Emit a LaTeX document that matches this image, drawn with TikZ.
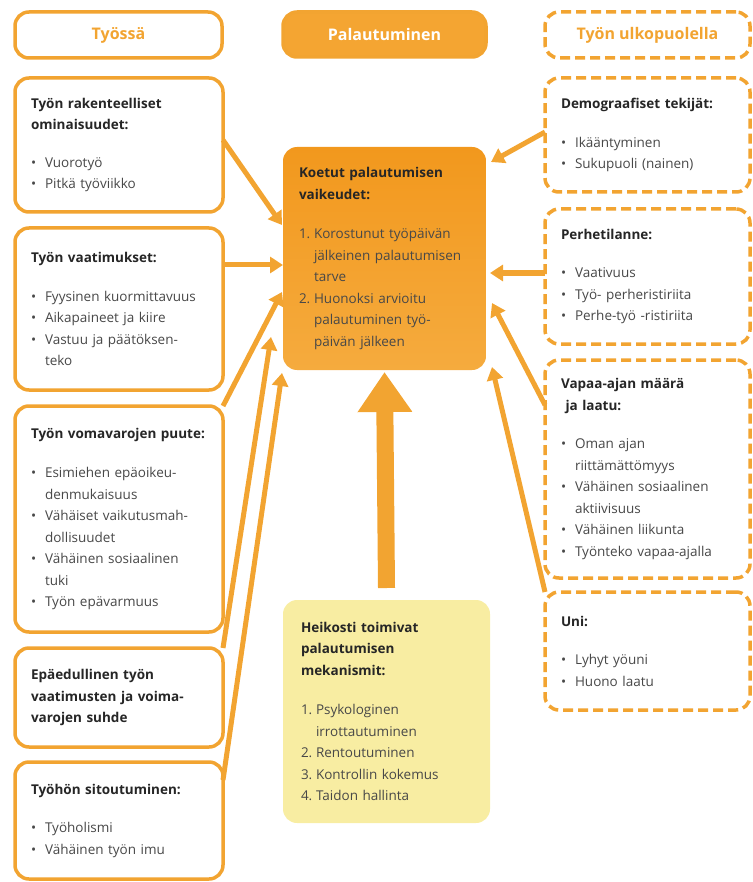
\documentclass[tikz,border=0pt]{standalone}
\usepackage{fontspec}
\setmainfont{Open Sans}
\usetikzlibrary{positioning,arrows.meta,calc}

\definecolor{palaorange}{HTML}{F2A431}
\definecolor{headfill}{HTML}{F4A532}
\definecolor{centop}{HTML}{F2981D}
\definecolor{cenbottom}{HTML}{F5AB3E}
\definecolor{mechyellow}{HTML}{F8EDA2}
\definecolor{headgray}{HTML}{262626}
\definecolor{bodygray}{HTML}{484848}

\newcommand{\hd}[1]{\textbf{\color{headgray}#1}}
\newcommand{\itm}{\makebox[14pt][l]{\textbullet}}
\newcommand{\cnt}{\hspace*{14pt}}
\newcommand{\nr}[1]{\makebox[15pt][l]{#1}}

\begin{document}
\begin{tikzpicture}[
    x=1pt, y=1pt,
    font=\fontsize{13.5}{21.5}\selectfont,
    sidebox/.style={
        draw=palaorange,
        fill=white,
        line width=3.5pt,
        rounded corners=14pt,
        outer sep=0pt,
        anchor=north west,
        align=left,
        text=bodygray,
        inner xsep=16pt,
        inner ysep=6pt
    },
    workbox/.style={
        sidebox,
        text width=176pt,
        minimum width=208pt
    },
    freebox/.style={
        sidebox,
        dash pattern=on 10pt off 5pt,
        text width=173pt,
        minimum width=205pt
    },
    headbox/.style={
        draw=palaorange,
        line width=3.5pt,
        rounded corners=14pt,
        outer sep=0pt,
        anchor=north west,
        minimum height=46pt,
        text=palaorange,
        font=\fontsize{16}{19}\selectfont\bfseries
    },
    link/.style={
        draw=palaorange,
        line width=5pt,
        -{Triangle[width=16pt,length=13pt]}
    },
    bigarrow/.style={
        draw=palaorange,
        line width=17pt,
        -{Triangle[width=52pt,length=40pt]}
    }
]
\useasboundingbox (0,0) rectangle (752,-882);

% Column headers
\node[headbox, minimum width=207pt] (tyossa) at (15,-12) {Työssä};
\node[headbox, fill=headfill, text=white, minimum width=203pt, minimum height=45pt] (pala) at (283,-12) {Palautuminen};
\node[headbox, dash pattern=on 10pt off 5pt, minimum width=205pt] (ulko) at (545,-12) {Työn ulkopuolella};

% Left column: at work
\node[workbox, below=20pt of tyossa.south west, anchor=north west, minimum height=134pt] (rakenne) {
    \hd{Työn rakenteelliset}\\ \hd{ominaisuudet:}\\[16pt]
    \itm Vuorotyö\\
    \itm Pitkä työviikko
};
\node[workbox, below=16pt of rakenne.south west, anchor=north west, minimum height=162pt] (vaatimus) {
    \hd{Työn vaatimukset:}\\[17pt]
    \itm Fyysinen kuormittavuus\\
    \itm Aikapaineet ja kiire\\
    \itm Vastuu ja päätöksen-\\
    \cnt teko
};
\node[workbox, below=16pt of vaatimus.south west, anchor=north west, minimum height=226pt] (voimavara) {
    \hd{Työn vomavarojen puute:}\\[18pt]
    \itm Esimiehen epäoikeu-\\
    \cnt denmukaisuus\\
    \itm Vähäiset vaikutusmah-\\
    \cnt dollisuudet\\
    \itm Vähäinen sosiaalinen\\
    \cnt tuki\\
    \itm Työn epävarmuus
};
\node[workbox, below=16pt of voimavara.south west, anchor=north west, minimum height=99pt] (suhde) {
    \hd{Epäedullinen työn}\\
    \hd{vaatimusten ja voima-}\\
    \hd{varojen suhde}
};
\node[workbox, below=15pt of suhde.south west, anchor=north west, minimum height=117pt] (sitoutus) {
    \hd{Työhön sitoutuminen:}\\[17pt]
    \itm Työholismi\\
    \itm Vähäinen työn imu
};

% Right column: outside work
\node[freebox, below=20pt of ulko.south west, anchor=north west, minimum height=114pt] (demo) {
    \hd{Demograafiset tekijät:}\\[17pt]
    \itm Ikääntyminen\\
    \itm Sukupuoli (nainen)
};
\node[freebox, below=17pt of demo.south west, anchor=north west, minimum height=135pt] (perhe) {
    \hd{Perhetilanne:}\\[17pt]
    \itm Vaativuus\\
    \itm Työ- perheristiriita\\
    \itm Perhe-työ -ristiriita
};
\node[freebox, below=16pt of perhe.south west, anchor=north west, minimum height=218pt] (vapaa) {
    \hd{Vapaa-ajan määrä}\\ \hd{\ ja laatu:}\\[17pt]
    \itm Oman ajan\\
    \cnt riittämättömyys\\
    \itm Vähäinen sosiaalinen\\
    \cnt aktiivisuus\\
    \itm Vähäinen liikunta\\
    \itm Työnteko vapaa-ajalla
};
\node[freebox, below=14pt of vapaa.south west, anchor=north west, minimum height=118pt] (uni) {
    \hd{Uni:}\\[17pt]
    \itm Lyhyt yöuni\\
    \itm Huono laatu
};

% Centre: recovery
\node[sidebox, draw=none, top color=centop, bottom color=cenbottom, text width=171pt, minimum width=203pt,
      below=90pt of pala.south west, anchor=north west, minimum height=223pt] (koetut) {
    \hd{Koetut palautumisen}\\ \hd{vaikeudet:}\\[18pt]
    \nr{1.}Korostunut työpäivän\\
    \cnt\hspace*{1pt}jälkeinen palautumisen\\
    \cnt\hspace*{1pt}tarve\\
    \nr{2.}Huonoksi arvioitu\\
    \cnt\hspace*{1pt}palautuminen työ-\\
    \cnt\hspace*{1pt}päivän jälkeen
};
\node[sidebox, draw=none, fill=mechyellow, text width=171pt, inner xsep=18pt, minimum width=207pt,
      below=230pt of koetut.south west, anchor=north west, minimum height=223pt] (mekanismi) {
    \hd{Heikosti toimivat}\\ \hd{palautumisen}\\ \hd{mekanismit:}\\[18pt]
    \nr{1.}Psykologinen\\
    \cnt\hspace*{1pt}irrottautuminen\\
    \nr{2.}Rentoutuminen\\
    \nr{3.}Kontrollin kokemus\\
    \nr{4.}Taidon hallinta
};

% Connections from work factors
\draw[link] ($(rakenne.north east)+(0,-62)$) -- ($(koetut.north west)+(-1,-78)$);
\draw[link] ($(vaatimus.north east)+(0,-37)$) -- ($(koetut.north west)+(0,-118)$);
\draw[link] (voimavara.north east) -- ($(koetut.north west)+(-1,-145)$);
\draw[link] (suhde.north east) -- ($(koetut.north west)+(-12,-190)$);
\draw[link] ($(sitoutus.north east)+(0,-18)$) -- ($(koetut.south west)+(-1,-3)$);

% Connections from outside work
\draw[link] ($(demo.north west)+(0,-54)$) -- ($(koetut.north east)+(5,-15)$);
\draw[link] ($(perhe.north west)+(0,-64)$) -- ($(koetut.north east)+(4,-126)$);
\draw[link] ($(vapaa.north west)+(0,-45)$) -- ($(koetut.north east)+(6,-156)$);
\draw[link] (uni.north west) -- ($(koetut.south east)+(6,3)$);

% Mechanisms feed recovery
\draw[bigarrow] ($(mekanismi.north)+(0,12)$) -- ($(koetut.south)+(0,-2)$);

\end{tikzpicture}
\end{document}
